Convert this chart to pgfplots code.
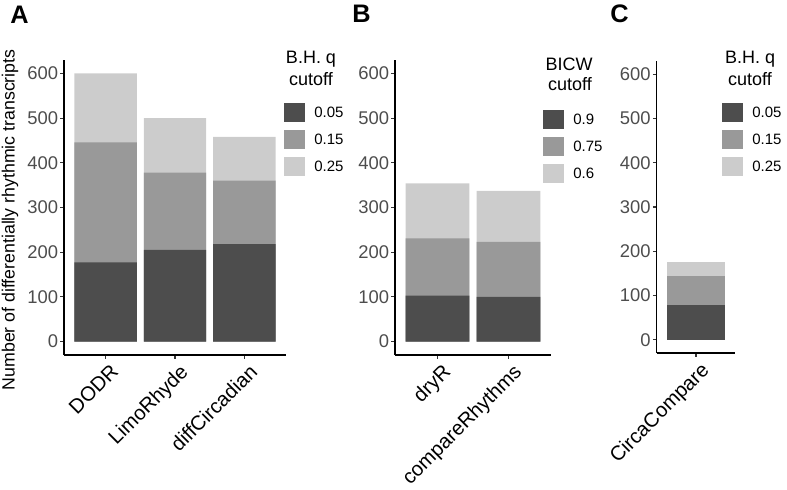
\documentclass[border=0pt]{standalone}
\usepackage{fontspec}
\setmainfont{Liberation Sans}
\usepackage{pgfplots}
\pgfplotsset{compat=1.18}

\definecolor{qdark}{HTML}{4D4D4D}
\definecolor{qmid}{HTML}{999999}
\definecolor{qlight}{HTML}{CCCCCC}
\definecolor{ticklab}{HTML}{4D4D4D}
\definecolor{tickcol}{HTML}{333333}

% 1 px of the reference = 0.75pt
\pgfplotsset{
  every axis plot post/.append style={
    draw=none,
    legend image code/.code={\fill[##1] (0pt,-7.125pt) rectangle (15.75pt,7.125pt);}
  },
  panel/.style={
    scale only axis,
    anchor=south west,
    axis lines*=left,
    axis line style={black, line width=1.1pt},
    ybar, bar width=0.9, /pgf/bar shift=0pt,
    ymin=-30, ymax=630, ytick={0,100,...,600},
    xmin=0.4,
    tick align=outside, major tick length=2.8pt,
    tick style={tickcol, line width=0.8pt},
    /pgf/number format/assume math mode=true,
    yticklabel style={font=\fontsize{13.8}{15}\selectfont, text=ticklab, inner xsep=1.5pt},
    xticklabel style={font=\fontsize{15.2}{17}\selectfont, rotate=45, anchor=north east, inner sep=1pt, yshift=-3pt, xshift=1pt},
    legend style={draw=none, fill=none, inner sep=0pt, anchor=north west, row sep=6pt,
      font=\fontsize{11.25}{13}\selectfont, nodes={inner sep=0pt},
      /tikz/every odd column/.append style={column sep=6.75pt}},
    legend cell align=left, reverse legend,
  }
}

\begin{document}
\begin{tikzpicture}
\useasboundingbox (0,0) rectangle (590.25pt,-366.75pt);

% Panel A
\begin{axis}[panel, at={(48pt,-266.25pt)}, width=166.5pt, height=221.25pt,
  xmax=3.6, xtick={1,2,3}, xticklabels={DODR,LimoRhyde,diffCircadian},
  ylabel={Number of differentially rhythmic transcripts},
  ylabel style={at={(axis description cs:-0.243,0.458)}, anchor=center, font=\fontsize{13.3}{15}\selectfont},
  legend style={at={(axis description cs:0.991,0.854)}}]
\addplot[fill=qlight] coordinates {(1,600) (2,500) (3,458)};
\addplot[fill=qmid] coordinates {(1,446) (2,378) (3,360)};
\addplot[fill=qdark] coordinates {(1,177) (2,205) (3,218)};
\legend{0.25,0.15,0.05}
\end{axis}

% Panel B
\begin{axis}[panel, at={(296.25pt,-266.25pt)}, width=117pt, height=221.25pt,
  xmax=2.6, xtick={1,2}, xticklabels={dryR,compareRhythms},
  legend style={at={(axis description cs:0.949,0.8305)}}]
\addplot[fill=qlight] coordinates {(1,354) (2,337)};
\addplot[fill=qmid] coordinates {(1,231) (2,223)};
\addplot[fill=qdark] coordinates {(1,103) (2,100)};
\legend{0.6,0.75,0.9}
\end{axis}

% Panel C
\begin{axis}[panel, at={(492.5pt,-264.75pt)}, width=58.95pt, height=219pt,
  xmax=1.6, xtick={1}, xticklabels={CircaCompare},
  legend style={at={(axis description cs:0.831,0.856)}}]
\addplot[fill=qlight] coordinates {(1,176)};
\addplot[fill=qmid] coordinates {(1,143)};
\addplot[fill=qdark] coordinates {(1,78)};
\legend{0.25,0.15,0.05}
\end{axis}

% legend titles
\begin{scope}[every node/.style={inner sep=0pt, anchor=base, font=\fontsize{13.5}{15}\selectfont}]
\node at (233.25pt,-47.25pt) {B.H. q};
\node at (233.25pt,-63.75pt) {cutoff};
\node at (426.75pt,-52.5pt) {BICW};
\node at (427.5pt,-67.5pt) {cutoff};
\node at (562.5pt,-47.25pt) {B.H. q};
\node at (562.5pt,-63.75pt) {cutoff};
\end{scope}

% panel letters
\begin{scope}[every node/.style={inner sep=0pt, anchor=base west, font=\fontsize{19}{21}\selectfont\bfseries}]
\node at (7.5pt,-17.25pt) {A};
\node at (264pt,-16.5pt) {B};
\node at (457.5pt,-16.5pt) {C};
\end{scope}
\end{tikzpicture}
\end{document}
